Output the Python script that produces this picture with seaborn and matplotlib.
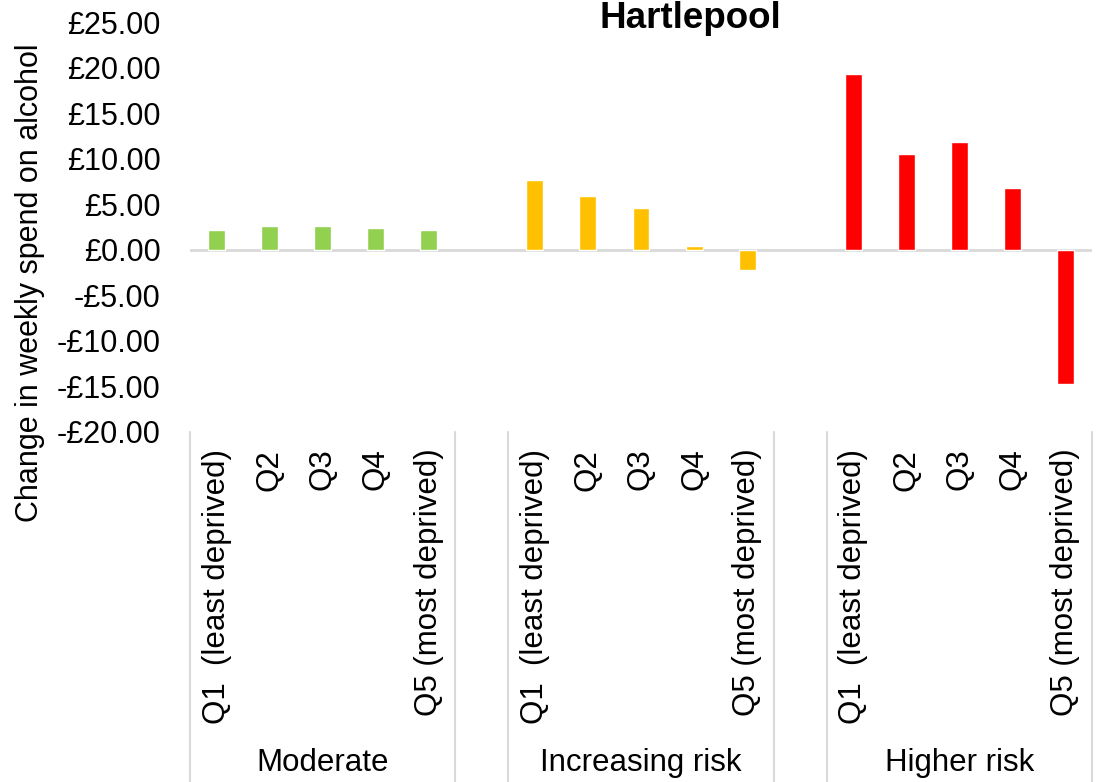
import numpy as np
import pandas as pd
import matplotlib
matplotlib.use('Agg')
import matplotlib.pyplot as plt
import matplotlib.transforms as mtransforms
import seaborn as sns

# data
groups = ['Moderate', 'Increasing risk', 'Higher risk']
quintiles = ['Q1  (least deprived)', 'Q2', 'Q3', 'Q4', 'Q5 (most deprived)']
moderate = [2.20, 2.63, 2.63, 2.41, 2.20]
increasing = [7.68, 5.93, 4.61, 0.44, -2.20]
higher = [19.30, 10.50, 11.85, 6.80, -14.70]
colors = {'Moderate': '#92D050', 'Increasing risk': '#FFC000', 'Higher risk': '#FF0000'}

#%%
rows = []
for g, vals in zip(groups, [moderate, increasing, higher]):
    for q, v in zip(quintiles, vals):
        rows.append({'slot': g + '|' + q, 'quintile': q, 'group': g, 'value': v})
df = pd.DataFrame(rows)

# excel style: a blank category between the groups
order = []
labels = []
for i, g in enumerate(groups):
    order += [g + '|' + q for q in quintiles]
    labels += quintiles
    if i < len(groups) - 1:
        order.append('blank' + str(i))
        labels.append('')

#%%
sns.set_style('white')
plt.rcParams['font.family'] = ['Liberation Sans', 'DejaVu Sans']
plt.rcParams['text.color'] = 'black'
plt.rcParams['xtick.color'] = 'black'
plt.rcParams['ytick.color'] = 'black'

fig = plt.figure(figsize=(10.99, 7.82), dpi=100)
ax = fig.add_axes([190 / 1099, 1 - 432 / 782, 902 / 1099, 410 / 782])

sns.barplot(data=df, x='slot', y='value', hue='group', order=order,
            hue_order=groups, palette=colors, dodge=False, width=0.32,
            legend=False, ax=ax, saturation=1)

ax.set_xlim(-0.5, len(order) - 0.5)
ax.set_ylim(-20, 25)
ax.set_yticks(np.arange(-20, 26, 5))
ax.set_yticklabels([('-£%.2f' % abs(t)) if t < 0 else ('£%.2f' % t) for t in np.arange(-20, 26, 5)])
ax.set_xticks(range(len(order)))
ax.set_xticklabels(labels, rotation=90)
ax.tick_params(axis='y', length=0, pad=21, labelsize=22)
ax.tick_params(axis='x', length=0, pad=12, labelsize=22.5)
ax.set_xlabel('')
ax.set_ylabel('')

for s in ax.spines.values():
    s.set_visible(False)
ax.axhline(0, color='#d9d9d9', lw=2, zorder=0)

# group separators and group names under the axis
trans = mtransforms.blended_transform_factory(ax.transData, ax.transAxes)
bottom = -(782 - 432) / 410
for x in [-0.5, 4.5, 5.5, 10.5, 11.5, 16.5]:
    ax.plot([x, x], [0, bottom], color='#d9d9d9', lw=1.5, transform=trans, clip_on=False)
for i, g in enumerate(groups):
    ax.text(i * 6 + 2, -(763 - 432) / 410, g, transform=trans, ha='center', va='center', fontsize=22.5)

fig.text(690 / 1099, 1 - 18 / 782, 'Hartlepool', ha='center', va='center', fontsize=26.5, fontweight='bold')
fig.text(30 / 1099, 1 - 283 / 782, 'Change in weekly spend on alcohol', rotation=90, ha='center', va='center', fontsize=22)

plt.savefig('out.png', dpi=100)
